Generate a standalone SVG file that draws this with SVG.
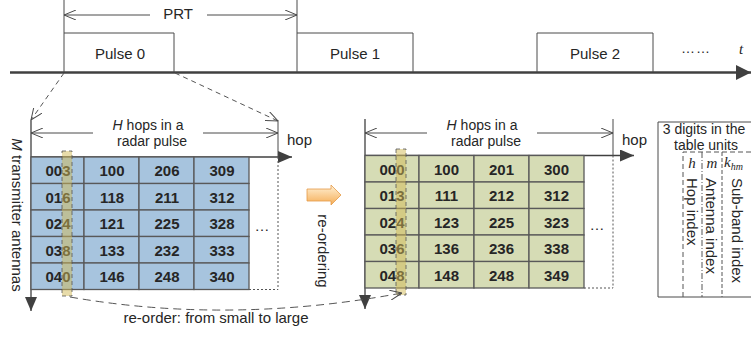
<svg xmlns="http://www.w3.org/2000/svg" width="751" height="337" viewBox="0 0 751 337">
<defs>
<style>
text{font-family:"Liberation Sans",Arial,sans-serif;fill:#262626;}
.t15{font-size:15px;}
.t14{font-size:14px;}
.mid{text-anchor:middle;}
.num{font-size:15px;font-weight:bold;text-anchor:middle;}
.ln{stroke:#4a4a4a;stroke-width:1;fill:none;}
.dash{stroke:#555;stroke-width:1;fill:none;stroke-dasharray:5,4;}
.dot{stroke:#555;stroke-width:1;fill:none;stroke-dasharray:2,2;}
.cellL{fill:#a7c4de;stroke:#595959;stroke-width:1.3;}
.cellR{fill:#d6dcb5;stroke:#595959;stroke-width:1.3;}
.strip{fill:#d2b955;fill-opacity:0.5;stroke:#555;stroke-width:0.8;stroke-dasharray:4,3;}
.math{font-family:"Liberation Serif","Times New Roman",serif;font-style:italic;font-size:15px;}
</style>
<marker id="open" viewBox="0 0 12 10" refX="12" refY="5" markerWidth="12" markerHeight="10" markerUnits="userSpaceOnUse" orient="auto-start-reverse">
<path d="M0,0 L12,5 L0,10" fill="none" stroke="#4a4a4a" stroke-width="1"/>
</marker>
<marker id="fill" viewBox="0 0 14 12" refX="14" refY="6" markerWidth="14" markerHeight="12" markerUnits="userSpaceOnUse" orient="auto">
<path d="M0,0 L14,6 L0,12 Z" fill="#404040"/>
</marker>
<marker id="fillBig" viewBox="0 0 15 15" refX="15" refY="7.5" markerWidth="15" markerHeight="15" markerUnits="userSpaceOnUse" orient="auto">
<path d="M0,0 L15,7.5 L0,15 Z" fill="#404040"/>
</marker>
<linearGradient id="orange" x1="0" y1="0" x2="0" y2="1">
<stop offset="0" stop-color="#fff1d6"/>
<stop offset="1" stop-color="#f5ad55"/>
</linearGradient>
</defs>
<rect width="751" height="337" fill="#fff"/>

<g id="time-axis">
<line x1="10" y1="72.5" x2="751" y2="72.5" stroke="#404040" stroke-width="2.5" marker-end="url(#fillBig)"/>
<text x="696" y="53" class="mid" style="font-size:14px;letter-spacing:1px">……</text>
<text x="741" y="54" class="math mid">t</text>
</g>

<g id="prt">
<line x1="64" y1="0" x2="64" y2="33" class="ln"/>
<line x1="297" y1="0" x2="297" y2="33" class="ln"/>
<line x1="150" y1="15" x2="64" y2="15" class="ln" marker-end="url(#open)"/>
<line x1="207" y1="15" x2="297" y2="15" class="ln" marker-end="url(#open)"/>
<text x="178" y="19" class="t15 mid">PRT</text>
</g>

<g id="pulse0">
<polyline points="64,72 64,33 174,33 174,72" class="ln"/>
<text x="120" y="59" class="t15 mid">Pulse 0</text>
</g>
<g id="pulse1">
<polyline points="297,72 297,33 413,33 413,72" class="ln"/>
<text x="355" y="59" class="t15 mid">Pulse 1</text>
</g>
<g id="pulse2">
<polyline points="537,72 537,33 653,33 653,72" class="ln"/>
<text x="595" y="59" class="t15 mid">Pulse 2</text>
</g>

<g id="table-left">
<line x1="31" y1="120" x2="31" y2="311" stroke="#404040" stroke-width="1.3" marker-end="url(#fill)"/>
<line x1="31" y1="157" x2="292" y2="157" stroke="#404040" stroke-width="1.3" marker-end="url(#fill)"/>
<text x="287" y="145" class="t15">hop</text>
<line x1="278" y1="120" x2="278" y2="157" class="ln"/>
<line x1="278" y1="157" x2="278" y2="289.5" class="dot"/>
<line x1="249" y1="289.5" x2="278" y2="289.5" class="dot"/>
<line x1="93" y1="133" x2="31" y2="133" class="ln" marker-end="url(#open)"/>
<line x1="203" y1="133" x2="278" y2="133" class="ln" marker-end="url(#open)"/>
<text x="148" y="130" class="t14 mid"><tspan font-style="italic">H</tspan> hops in a</text>
<text x="152" y="146" class="t14 mid">radar pulse</text>
<text transform="translate(12,215) rotate(90)" class="t15 mid"><tspan font-style="italic">M</tspan> transmitter antennas</text>
<g>
<rect x="31" y="157" width="53" height="26.5" class="cellL"/><rect x="84" y="157" width="55" height="26.5" class="cellL"/><rect x="139" y="157" width="55" height="26.5" class="cellL"/><rect x="194" y="157" width="55" height="26.5" class="cellL"/>
<rect x="31" y="183.5" width="53" height="26.5" class="cellL"/><rect x="84" y="183.5" width="55" height="26.5" class="cellL"/><rect x="139" y="183.5" width="55" height="26.5" class="cellL"/><rect x="194" y="183.5" width="55" height="26.5" class="cellL"/>
<rect x="31" y="210" width="53" height="26.5" class="cellL"/><rect x="84" y="210" width="55" height="26.5" class="cellL"/><rect x="139" y="210" width="55" height="26.5" class="cellL"/><rect x="194" y="210" width="55" height="26.5" class="cellL"/>
<rect x="31" y="236.5" width="53" height="26.5" class="cellL"/><rect x="84" y="236.5" width="55" height="26.5" class="cellL"/><rect x="139" y="236.5" width="55" height="26.5" class="cellL"/><rect x="194" y="236.5" width="55" height="26.5" class="cellL"/>
<rect x="31" y="263" width="53" height="26.5" class="cellL"/><rect x="84" y="263" width="55" height="26.5" class="cellL"/><rect x="139" y="263" width="55" height="26.5" class="cellL"/><rect x="194" y="263" width="55" height="26.5" class="cellL"/>
</g>
<g>
<text x="58" y="176" class="num">003</text><text x="112" y="176" class="num">100</text><text x="167" y="176" class="num">206</text><text x="222" y="176" class="num">309</text>
<text x="58" y="202.5" class="num">016</text><text x="112" y="202.5" class="num">118</text><text x="167" y="202.5" class="num">211</text><text x="222" y="202.5" class="num">312</text>
<text x="58" y="229" class="num">024</text><text x="112" y="229" class="num">121</text><text x="167" y="229" class="num">225</text><text x="222" y="229" class="num">328</text>
<text x="58" y="255.5" class="num">038</text><text x="112" y="255.5" class="num">133</text><text x="167" y="255.5" class="num">232</text><text x="222" y="255.5" class="num">333</text>
<text x="58" y="282" class="num">040</text><text x="112" y="282" class="num">146</text><text x="167" y="282" class="num">248</text><text x="222" y="282" class="num">340</text>
</g>
<text x="262" y="231" class="t15 mid">…</text>
<rect x="62" y="151" width="10" height="145" class="strip"/>
</g>

<g id="table-right">
<line x1="365" y1="119" x2="365" y2="309" stroke="#404040" stroke-width="1.3" marker-end="url(#fill)"/>
<line x1="365" y1="155.5" x2="634" y2="155.5" stroke="#404040" stroke-width="1.3" marker-end="url(#fill)"/>
<text x="622" y="145" class="t15">hop</text>
<line x1="613" y1="119" x2="613" y2="155.5" class="ln"/>
<line x1="613" y1="155.5" x2="613" y2="288" class="dot"/>
<line x1="584" y1="288" x2="613" y2="288" class="dot"/>
<line x1="427" y1="133" x2="365" y2="133" class="ln" marker-end="url(#open)"/>
<line x1="537" y1="133" x2="613" y2="133" class="ln" marker-end="url(#open)"/>
<text x="482" y="130" class="t14 mid"><tspan font-style="italic">H</tspan> hops in a</text>
<text x="486" y="146" class="t14 mid">radar pulse</text>
<g>
<rect x="365" y="155.5" width="54" height="26.5" class="cellR"/><rect x="419" y="155.5" width="55" height="26.5" class="cellR"/><rect x="474" y="155.5" width="55" height="26.5" class="cellR"/><rect x="529" y="155.5" width="55" height="26.5" class="cellR"/>
<rect x="365" y="182" width="54" height="26.5" class="cellR"/><rect x="419" y="182" width="55" height="26.5" class="cellR"/><rect x="474" y="182" width="55" height="26.5" class="cellR"/><rect x="529" y="182" width="55" height="26.5" class="cellR"/>
<rect x="365" y="208.5" width="54" height="26.5" class="cellR"/><rect x="419" y="208.5" width="55" height="26.5" class="cellR"/><rect x="474" y="208.5" width="55" height="26.5" class="cellR"/><rect x="529" y="208.5" width="55" height="26.5" class="cellR"/>
<rect x="365" y="235" width="54" height="26.5" class="cellR"/><rect x="419" y="235" width="55" height="26.5" class="cellR"/><rect x="474" y="235" width="55" height="26.5" class="cellR"/><rect x="529" y="235" width="55" height="26.5" class="cellR"/>
<rect x="365" y="261.5" width="54" height="26.5" class="cellR"/><rect x="419" y="261.5" width="55" height="26.5" class="cellR"/><rect x="474" y="261.5" width="55" height="26.5" class="cellR"/><rect x="529" y="261.5" width="55" height="26.5" class="cellR"/>
</g>
<g>
<text x="392" y="174.5" class="num">000</text><text x="446.5" y="174.5" class="num">100</text><text x="501.5" y="174.5" class="num">201</text><text x="556.5" y="174.5" class="num">300</text>
<text x="392" y="201" class="num">013</text><text x="446.5" y="201" class="num">111</text><text x="501.5" y="201" class="num">212</text><text x="556.5" y="201" class="num">312</text>
<text x="392" y="227.5" class="num">024</text><text x="446.5" y="227.5" class="num">123</text><text x="501.5" y="227.5" class="num">225</text><text x="556.5" y="227.5" class="num">323</text>
<text x="392" y="254" class="num">036</text><text x="446.5" y="254" class="num">136</text><text x="501.5" y="254" class="num">236</text><text x="556.5" y="254" class="num">338</text>
<text x="392" y="280.5" class="num">048</text><text x="446.5" y="280.5" class="num">148</text><text x="501.5" y="280.5" class="num">248</text><text x="556.5" y="280.5" class="num">349</text>
</g>
<text x="597" y="230" class="t15 mid">…</text>
<rect x="396" y="149" width="10" height="146" class="strip"/>
</g>

<g id="legend">
<path d="M751,122 L658,122 L658,297 L751,297" class="ln" stroke="#555"/>
<text x="704" y="134" class="t14 mid">3 digits in the</text>
<text x="706" y="149.5" class="t14 mid">table units</text>
<path d="M683,297 L683,152 L751,152" class="dash" style="stroke-dasharray:5,3"/>
<line x1="702" y1="152" x2="702" y2="297" class="dash" style="stroke-dasharray:6,2,1,2"/>
<line x1="722" y1="152" x2="722" y2="297" class="dash" style="stroke-dasharray:4,2"/>
<text x="692" y="168" class="math mid">h</text>
<text x="712" y="168" class="math mid">m</text>
<text x="724" y="167" class="math">k<tspan font-size="10" dy="3">hm</tspan></text>
<text transform="translate(687,178) rotate(90)" class="t15">Hop index</text>
<text transform="translate(706,178) rotate(90)" class="t15">Antenna index</text>
<text transform="translate(732,178) rotate(90)" class="t15">Sub-band index</text>
</g>

<g id="connectors">
<line x1="64" y1="73" x2="31" y2="120" class="dash" marker-end="url(#open)"/>
<line x1="175" y1="73" x2="278" y2="121" class="dash" marker-end="url(#open)"/>
<path d="M70,297 Q230,325 402,293" class="dash" style="stroke-dasharray:8,5" marker-end="url(#open)"/>
<path d="M307,189 L331,189 L331,185 L341,195 L331,205 L331,201 L307,201 Z" fill="url(#orange)" stroke="#e49b48" stroke-width="0.8"/>
<text transform="translate(318,251) rotate(90)" class="t15 mid">re-ordering</text>
<text x="216" y="323" class="t15 mid">re-order: from small to large</text>
</g>
</svg>
